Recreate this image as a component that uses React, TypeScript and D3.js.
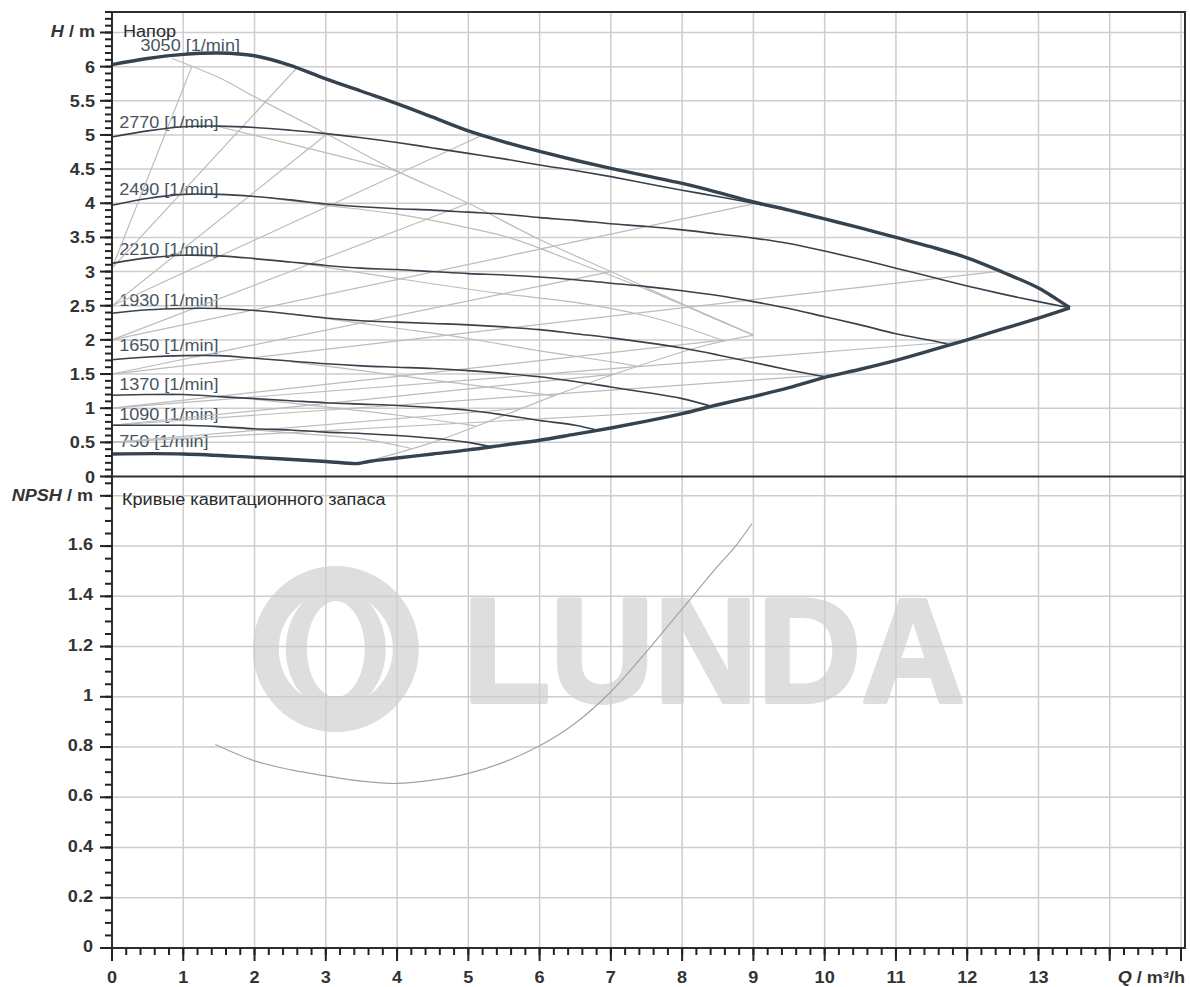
import React from 'react';
import * as d3 from 'd3';

type Pt = [number, number];

// ---- data ----
const speeds = ['3050', '2770', '2490', '2210', '1930', '1650', '1370', '1090', '750'];
// label anchor (Q, H) for each speed label
const speedLabelAt: Pt[] = [
  [0.4, 6.23], [0.1, 5.1], [0.1, 4.12], [0.1, 3.24], [0.1, 2.49],
  [0.1, 1.83], [0.1, 1.26], [0.1, 0.82], [0.1, 0.43],
];

// max curve (3050 1/min + power limit)
const maxCurve: Pt[] = [
  [0, 6.03], [0.5, 6.12], [1, 6.18], [1.5, 6.2], [2, 6.16], [2.5, 6.02], [3, 5.82],
  [3.5, 5.64], [4, 5.46], [4.5, 5.26], [5, 5.06], [5.5, 4.9], [6, 4.76], [6.5, 4.63],
  [7, 4.51], [7.5, 4.4], [8, 4.29], [8.5, 4.16], [9, 4.02], [9.5, 3.9], [10, 3.77],
  [10.5, 3.64], [11, 3.5], [11.5, 3.36], [12, 3.2], [12.5, 2.99], [13, 2.76],
  [13.25, 2.6], [13.44, 2.47],
];
// min curve (750 1/min + lower limit)
const minCurve: Pt[] = [
  [0, 0.33], [1, 0.33], [2, 0.28], [3, 0.22], [3.45, 0.19], [3.6, 0.22], [4, 0.27],
  [4.5, 0.33], [5, 0.39], [5.5, 0.46], [6, 0.53], [6.5, 0.62], [7, 0.71], [7.5, 0.81],
  [8, 0.92], [8.5, 1.05], [9, 1.17], [9.5, 1.3], [10, 1.45], [10.5, 1.57], [11, 1.7],
  [11.5, 1.85], [12, 2.0], [12.5, 2.16], [13, 2.32], [13.44, 2.47],
];

const curve2770: Pt[] = [
  [0, 4.97], [0.5, 5.06], [1, 5.12], [1.5, 5.13], [2, 5.11], [2.5, 5.07], [3, 5.02],
  [3.5, 4.96], [4, 4.89], [4.5, 4.81], [5, 4.73], [5.5, 4.65], [6, 4.56], [6.5, 4.48],
  [7, 4.39], [7.5, 4.29], [8, 4.19], [8.5, 4.1], [9, 4.0], [9.5, 3.9], [9.8, 3.83],
];
const curve2490: Pt[] = [
  [0, 3.97], [0.5, 4.07], [1, 4.13], [1.5, 4.13], [2, 4.1], [2.5, 4.05], [3, 3.99],
  [3.5, 3.95], [4, 3.92], [4.5, 3.9], [5, 3.87], [5.5, 3.84], [6, 3.79], [6.5, 3.75],
  [7, 3.7], [7.5, 3.66], [8, 3.61], [8.5, 3.55], [9, 3.49], [9.5, 3.41], [10, 3.3],
  [10.5, 3.18], [11, 3.05], [11.5, 2.92], [12, 2.79], [12.5, 2.67], [13, 2.56], [13.44, 2.47],
];
const curve2210: Pt[] = [
  [0, 3.12], [0.5, 3.2], [1, 3.24], [1.5, 3.23], [2, 3.19], [2.5, 3.14], [3, 3.09],
  [3.5, 3.05], [4, 3.03], [4.5, 3.0], [5, 2.97], [5.5, 2.95], [6, 2.92], [6.5, 2.88],
  [7, 2.83], [7.5, 2.78], [8, 2.72], [8.5, 2.65], [9, 2.56], [9.5, 2.46], [10, 2.34],
  [10.5, 2.22], [11, 2.09], [11.5, 1.99], [11.75, 1.93],
];
const curve1930: Pt[] = [
  [0, 2.39], [0.5, 2.44], [1, 2.46], [1.5, 2.46], [2, 2.43], [2.5, 2.38], [3, 2.32],
  [3.5, 2.28], [4, 2.26], [4.5, 2.24], [5, 2.22], [5.5, 2.19], [6, 2.15], [6.5, 2.09],
  [7, 2.03], [7.5, 1.96], [8, 1.88], [8.5, 1.78], [9, 1.67], [9.5, 1.56], [10, 1.46],
];
const curve1650: Pt[] = [
  [0, 1.71], [0.5, 1.75], [1, 1.77], [1.5, 1.77], [2, 1.73], [2.5, 1.69], [3, 1.65],
  [3.5, 1.62], [4, 1.6], [4.5, 1.58], [5, 1.55], [5.5, 1.51], [6, 1.46], [6.5, 1.39],
  [7, 1.31], [7.5, 1.23], [8, 1.14], [8.4, 1.03],
];
const curve1370: Pt[] = [
  [0, 1.19], [0.5, 1.2], [1, 1.2], [1.5, 1.17], [2, 1.14], [2.5, 1.11], [3, 1.08],
  [3.5, 1.06], [4, 1.04], [4.5, 1.01], [5, 0.97], [5.5, 0.9], [6, 0.82], [6.5, 0.75], [6.8, 0.68],
];
const curve1090: Pt[] = [
  [0, 0.75], [0.5, 0.75], [1, 0.75], [1.5, 0.73], [2, 0.7], [2.5, 0.68], [3, 0.65],
  [3.5, 0.63], [4, 0.6], [4.5, 0.56], [5, 0.5], [5.3, 0.44],
];
const speedCurves = [curve2770, curve2490, curve2210, curve1930, curve1650, curve1370, curve1090];

// light grey curves (second variant and control lines)
const greyTop: Pt[] = [
  [0.84, 6.12], [1.5, 5.84], [2, 5.56], [3, 5.02], [4, 4.47], [5, 4.0], [6, 3.47],
  [7, 3.0], [8, 2.53], [9, 2.07],
];
const greyBottom: Pt[] = [
  [3.5, 0.2], [4.5, 0.5], [5.44, 0.87], [6.2, 1.18], [6.94, 1.46], [8.25, 1.9], [9, 2.07],
];
const grey2770: Pt[] = [[1.5, 5.12], [2.5, 4.87], [3.3, 4.66], [4.04, 4.46]];
const grey2490: Pt[] = [
  [2.2, 4.08], [3, 3.97], [4, 3.84], [5, 3.64], [5.6, 3.49], [6.5, 3.14], [7.5, 2.74], [8.3, 2.38], [9, 2.07],
];
const grey2210: Pt[] = [[2.6, 3.13], [4, 2.9], [5.44, 2.68], [6.5, 2.55], [7.5, 2.35], [8, 2.2], [8.6, 1.98]];
const grey1930: Pt[] = [[2.6, 2.37], [4, 2.17], [5, 2.02], [6, 1.84], [7, 1.68], [7.4, 1.61]];
const grey1650: Pt[] = [[2.5, 1.68], [3.5, 1.55], [4.5, 1.41], [5.5, 1.28], [6.2, 1.18]];
const grey1370: Pt[] = [[2, 1.13], [3, 1.02], [4, 0.9], [5.1, 0.74]];
const grey1090: Pt[] = [[1.5, 0.73], [2.5, 0.64], [3.5, 0.55], [4.2, 0.41]];
const controlLines: Pt[][] = [
  [[0, 3.05], [2.6, 5.99]], [[0, 2.5], [5.2, 5.0]], [[0, 2.0], [9.0, 3.99]],
  [[0, 1.5], [12.4, 3.0]], [[0, 1.0], [11.9, 1.98]], [[0, 0.75], [10.2, 1.5]], [[0, 0.5], [8.2, 0.97]],
  [[0, 3.05], [1.12, 6.0]], [[0, 2.5], [3.0, 5.0]], [[0, 2.0], [5.0, 4.0]], [[0, 1.5], [7.0, 3.0]],
  [[0, 1.0], [8.6, 2.0]], [[0, 0.75], [7.05, 1.5]], [[0, 0.5], [5.76, 1.0]],
];
const greyCurves = [greyTop, greyBottom, grey2770, grey2490, grey2210, grey1930, grey1650, grey1370, grey1090, ...controlLines];

// NPSH curve
const npsh: Pt[] = [
  [1.45, 0.81], [2, 0.745], [2.5, 0.71], [3, 0.685], [3.5, 0.664], [4, 0.655], [4.5, 0.668],
  [5, 0.695], [5.5, 0.74], [6, 0.805], [6.5, 0.895], [7, 1.02], [7.5, 1.18], [8, 1.35],
  [8.5, 1.52], [8.75, 1.6], [8.98, 1.69],
];

// axes
const qMax = 15;
const hMax = 6.8;
const nMax = 1.875;
const xMajor = d3.range(0, 16);
const xLabels = d3.range(0, 14);
const xMinor = d3.range(0, 76).map((i) => i / 5);
const hMajor = d3.range(0, 14).map((i) => i * 0.5);
const hMinor = d3.range(0, 69).map((i) => i / 10);
const nMajor = d3.range(0, 10).map((i) => +(i * 0.2).toFixed(2));
const nMinor = d3.range(0, 38).map((i) => i * 0.05);

const FONT = "'Liberation Sans', Arial, sans-serif";
const DARK = '#36424e';
const GRID = '#cdcdcd';
const GREY = '#bcbcbc';
const WM = '#dedede';

const x = d3.scaleLinear().domain([0, qMax]).range([112, 1181]);
const yH = d3.scaleLinear().domain([0, hMax]).range([476.5, 12]);
const yN = d3.scaleLinear().domain([0, nMax]).range([948, 477]);
const frameRight = 1185;

const T: React.FC<{
  x: number; y: number; anchor?: string; size?: number; weight?: string;
  fill?: string; children: React.ReactNode;
}> = ({ x, y, anchor = 'start', size = 16, weight = 'normal', fill = '#333', children }) => (
  <text
    transform={`translate(${x},${y}) scale(1.13,1)`}
    textAnchor={anchor}
    fontSize={size}
    fontWeight={weight}
    fill={fill}
    fontFamily={FONT}
  >
    {children}
  </text>
);

const ellipsePath = (cx: number, cy: number, rx: number, ry: number) =>
  `M${cx - rx},${cy}a${rx},${ry} 0 1,0 ${2 * rx},0a${rx},${ry} 0 1,0 ${-2 * rx},0Z`;

const fmt = (v: number) => String(+v.toFixed(2));

export default function App() {
  const smooth = d3.curveCatmullRom.alpha(0.5);
  const lineH = d3.line<Pt>().x((d) => x(d[0])).y((d) => yH(d[1])).curve(smooth);
  const lineN = d3.line<Pt>().x((d) => x(d[0])).y((d) => yN(d[1])).curve(smooth);

  const x0 = x(0);
  const top = yH(hMax);
  const mid = yH(0);
  const bottom = yN(0);

  // watermark position (in chart units)
  const wmX = x(3.14);
  const wmY = yN(1.19);

  return (
    <svg width={1190} height={987} style={{ position: 'absolute', left: 0, top: 0, background: '#fff' }}>
      <rect width={1190} height={987} fill="#fff" />

      {/* watermark */}
      <g fill={WM} stroke="none">
        <circle cx={wmX} cy={wmY} r={70} fill="none" stroke={WM} strokeWidth={26} />
        <path
          d={ellipsePath(wmX, wmY, 50, 62) + ellipsePath(wmX, wmY, 29, 48)}
          fillRule="evenodd"
        />
        <text
          x={x(4.88) + 3}
          y={yN(0.967) - 3}
          fontSize={148}
          fontWeight="bold"
          fontFamily={FONT}
          textLength={502}
          lengthAdjust="spacingAndGlyphs"
          stroke={WM}
          strokeWidth={4}
          strokeLinejoin="round"
        >
          LUNDA
        </text>
      </g>

      {/* grid */}
      <g stroke={GRID} strokeWidth={1.5}>
        {xMajor.filter((q) => q > 0).map((q) => (
          <line key={'gx' + q} x1={x(q)} x2={x(q)} y1={top} y2={bottom} />
        ))}
        {hMajor.filter((h) => h > 0).map((h) => (
          <line key={'gh' + h} x1={x0} x2={frameRight} y1={yH(h)} y2={yH(h)} />
        ))}
        {nMajor.filter((n) => n > 0).map((n) => (
          <line key={'gn' + n} x1={x0} x2={frameRight} y1={yN(n)} y2={yN(n)} />
        ))}
      </g>

      {/* panel titles and speed labels */}
      <T x={123} y={37} fill="#2a2a2a">Напор</T>
      <T x={122} y={505} fill="#2a2a2a">Кривые кавитационного запаса</T>
      {speeds.map((s, i) => (
        <T key={s} x={x(speedLabelAt[i][0])} y={yH(speedLabelAt[i][1])} fill="#4a5560">
          {`${s} [1/min]`}
        </T>
      ))}

      {/* grey curves */}
      <g fill="none" stroke={GREY} strokeWidth={1.2}>
        {greyCurves.map((c, i) => (
          <path key={'g' + i} d={lineH(c) ?? ''} />
        ))}
      </g>

      {/* speed curves */}
      <g fill="none" stroke={DARK} strokeWidth={1.6}>
        {speedCurves.map((c, i) => (
          <path key={'s' + i} d={lineH(c) ?? ''} />
        ))}
      </g>
      <g fill="none" stroke={DARK} strokeWidth={3.4} strokeLinejoin="round">
        <path d={lineH(maxCurve) ?? ''} />
        <path d={lineH(minCurve) ?? ''} />
      </g>

      {/* NPSH */}
      <path d={lineN(npsh) ?? ''} fill="none" stroke="#a2a2a2" strokeWidth={1.2} />

      {/* frame */}
      <g stroke="#2e2e2e" strokeWidth={2} fill="none">
        <line x1={x0} x2={frameRight} y1={top} y2={top} />
        <line x1={frameRight} x2={frameRight} y1={top - 1} y2={bottom} />
        <line x1={x0} x2={frameRight} y1={mid} y2={mid} />
        <line x1={x0} x2={frameRight + 1} y1={bottom} y2={bottom} />
        <line x1={x0} x2={x0} y1={top - 1} y2={bottom + 1} />
      </g>

      {/* axis ticks */}
      <g stroke="#222" strokeWidth={2}>
        {hMinor.map((h) => (
          <line key={'hm' + h} x1={x0 - 7} x2={x0} y1={yH(h)} y2={yH(h)} />
        ))}
        {hMajor.map((h) => (
          <line key={'hM' + h} x1={x0 - 12} x2={x0} y1={yH(h)} y2={yH(h)} />
        ))}
        {nMinor.map((n) => (
          <line key={'nm' + n} x1={x0 - 7} x2={x0} y1={yN(n)} y2={yN(n)} />
        ))}
        {nMajor.map((n) => (
          <line key={'nM' + n} x1={x0 - 12} x2={x0} y1={yN(n)} y2={yN(n)} />
        ))}
        {xMinor.map((q) => (
          <line key={'xm' + q} x1={x(q)} x2={x(q)} y1={bottom} y2={bottom + 7} />
        ))}
        {xMajor.map((q) => (
          <line key={'xM' + q} x1={x(q)} x2={x(q)} y1={bottom} y2={bottom + 13} />
        ))}
      </g>

      {/* tick labels */}
      {hMajor.map((h) =>
        h === 6.5 ? (
          <T key={'hl' + h} x={95} y={yH(h) + 5} anchor="end" weight="bold">
            <tspan fontStyle="italic">H</tspan> / m
          </T>
        ) : (
          <T key={'hl' + h} x={95} y={yH(h) + 6} anchor="end" weight="bold">{fmt(h)}</T>
        )
      )}
      {nMajor.map((n) =>
        n === 1.8 ? (
          <T key={'nl' + n} x={93} y={yN(n) + 5} anchor="end" weight="bold">
            <tspan fontStyle="italic">NPSH</tspan> / m
          </T>
        ) : (
          <T key={'nl' + n} x={93} y={yN(n) + 4} anchor="end" weight="bold">{fmt(n)}</T>
        )
      )}
      {xLabels.map((q) => (
        <T key={'xl' + q} x={x(q)} y={983} anchor="middle" weight="bold">{fmt(q)}</T>
      ))}
      <T x={frameRight} y={983} anchor="end" weight="bold">
        <tspan fontStyle="italic">Q</tspan> / m³/h
      </T>
    </svg>
  );
}
